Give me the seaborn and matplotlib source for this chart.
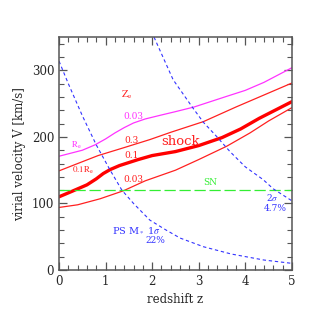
import matplotlib
matplotlib.use('Agg')
import matplotlib.pyplot as plt
from matplotlib.ticker import MultipleLocator
import numpy as np
import seaborn as sns

# curves (redshift z, virial velocity km/s)
z_mag = [0, 0.5, 0.77, 1.0, 1.2, 1.4, 1.6, 1.85, 2.2, 2.5, 2.9, 3.6, 4.0, 4.4, 5.0]
v_mag = [171, 180, 188, 197, 206, 214, 221, 227, 233, 238, 245, 261, 270, 282, 304]

z_r03 = [0, 0.4, 0.84, 1.4, 1.95, 2.4, 3.1, 3.8, 4.3, 5.0]
v_r03 = [149, 160, 172, 184, 196, 207, 223, 245, 260, 281]

z_shock = [0, 0.27, 0.6, 0.8, 0.95, 1.1, 1.3, 1.7, 2.0, 2.5, 3.0, 3.5, 3.9, 4.3, 5.0]
v_shock = [110, 118, 128, 137, 145, 151, 157, 166, 172, 178, 187, 199, 212, 228, 253]

z_r003 = [0, 0.4, 0.88, 1.38, 1.85, 2.5, 3.0, 3.6, 4.1, 4.5, 5.0]
v_r003 = [94, 98, 107, 119, 134, 150, 166, 186, 206, 224, 244]

sn_z = [0, 5]
sn_v = [120, 120]

z_1sig = [0, 0.2, 0.5, 0.8, 1.09, 1.35, 1.6, 1.95, 2.3, 2.6, 3.1, 3.7, 4.4, 5.0]
v_1sig = [314, 280, 232, 188, 151, 120, 100, 75, 60, 48, 35, 24, 15, 10]

z_2sig = [2.04, 2.2, 2.45, 2.88, 3.1, 3.38, 3.67, 4.0, 4.38, 4.6, 5.0]
v_2sig = [350, 325, 286, 243, 222, 201, 178, 155, 136, 122, 104]

RED = '#ff2020'
MAG = '#ff33ff'
BLUE = '#3333ff'
GREEN = '#33ee33'

def main():
	sns.set_style('ticks')
	plt.rcParams['font.family'] = ['DejaVu Serif']
	plt.rcParams['mathtext.fontset'] = 'stix'

	fig = plt.figure(figsize=(3.19, 3.19), dpi=100)
	ax = fig.add_axes([0.185, 0.1536, 0.73, 0.73])

	sns.lineplot(x=z_mag, y=v_mag, color=MAG, lw=0.9, ax=ax)
	sns.lineplot(x=z_r03, y=v_r03, color=RED, lw=0.9, ax=ax)
	sns.lineplot(x=z_shock, y=v_shock, color='#ff0000', lw=2.4, ax=ax)
	sns.lineplot(x=z_r003, y=v_r003, color=RED, lw=0.9, ax=ax)
	sns.lineplot(x=sn_z, y=sn_v, color=GREEN, lw=0.9, ax=ax,
		     linestyle=(0, (9, 3)))
	sns.lineplot(x=z_1sig, y=v_1sig, color=BLUE, lw=0.8, ax=ax,
		     linestyle=(0, (3, 2.5)))
	sns.lineplot(x=z_2sig, y=v_2sig, color=BLUE, lw=0.8, ax=ax,
		     linestyle=(0, (3, 2.5)))

	small = dict(fontsize=6.5, ha='center', va='center')
	ax.text(1.45, 263, r'$\mathrm{Z_e}$', color=RED, fontsize=7.5, ha='center', va='center')
	ax.text(1.59, 231, '0.03', color=MAG, **small)
	ax.text(1.55, 194, '0.3', color=RED, **small)
	ax.text(1.55, 172, '0.1', color=RED, **small)
	ax.text(1.59, 136, '0.03', color=RED, **small)
	ax.text(0.38, 187, r'$\mathrm{R_e}$', color=MAG, **small)
	ax.text(0.52, 150, r'$\mathrm{0.1R_e}$', color=RED, **small)
	ax.text(2.6, 193, 'shock', color=RED, fontsize=9.5, ha='center', va='center')
	ax.text(3.24, 131, 'SN', color=GREEN, fontsize=6.5, ha='center', va='center')
	ax.text(1.67, 59, r'PS M$_*$ 1$\sigma$', color=BLUE, fontsize=7, ha='center', va='center')
	ax.text(2.06, 44, '22%', color=BLUE, **small)
	ax.text(4.58, 109, r'2$\sigma$', color=BLUE, **small)
	ax.text(4.65, 93, '4.7%', color=BLUE, **small)

	ax.set_xlim(0, 5)
	ax.set_ylim(0, 350)
	ax.xaxis.set_major_locator(MultipleLocator(1))
	ax.xaxis.set_minor_locator(MultipleLocator(0.2))
	ax.yaxis.set_major_locator(MultipleLocator(100))
	ax.yaxis.set_minor_locator(MultipleLocator(20))
	ax.tick_params(which='both', direction='in', top=True, right=True,
		       labelsize=8.5, color='#555555')
	ax.tick_params(which='major', length=6, width=0.9)
	ax.tick_params(which='minor', length=3.5, width=0.8)
	for s in ax.spines.values():
		s.set_color('#555555')
		s.set_linewidth(1.1)

	ax.set_xlabel('redshift z', fontsize=8.5)
	ax.set_ylabel('virial velocity V [km/s]', fontsize=8.5)

	fig.savefig('out.png', dpi=100)

if __name__ == '__main__':
	main()
